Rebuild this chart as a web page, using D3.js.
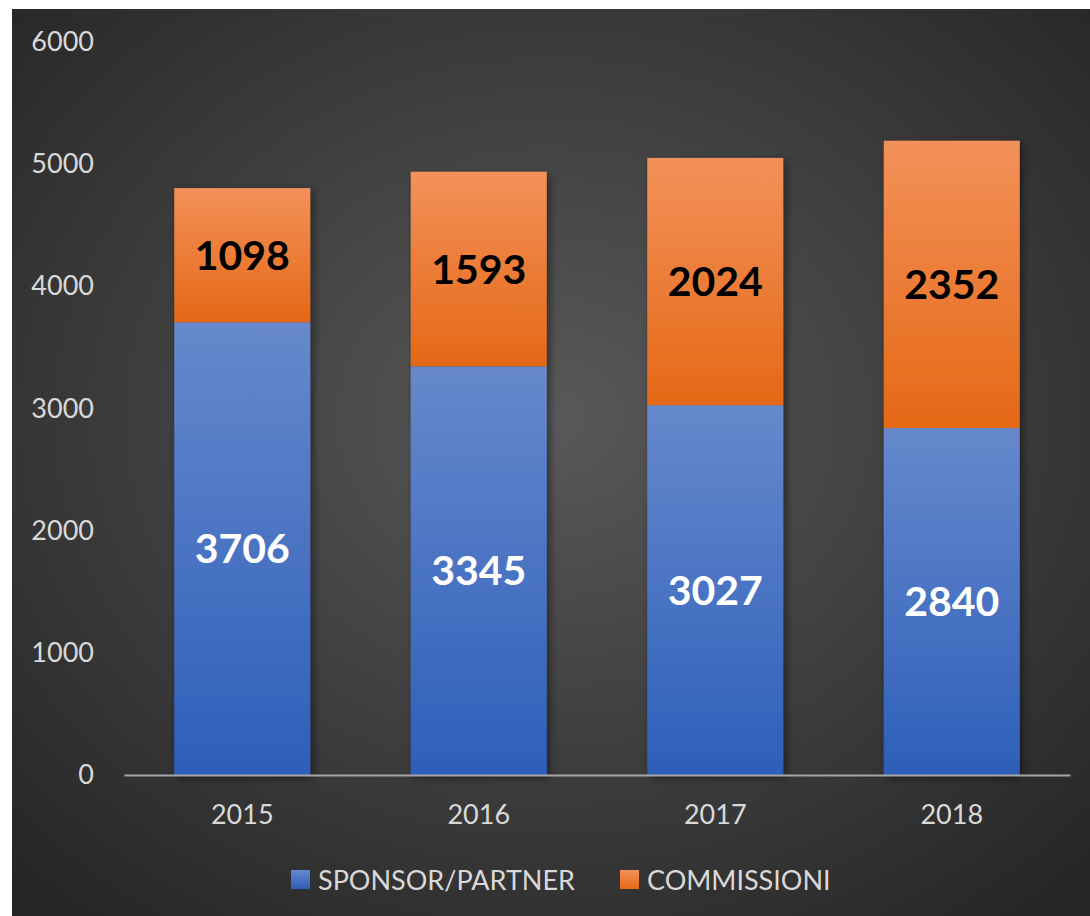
<!DOCTYPE html>
<html>
<head>
<meta charset="utf-8">
<script src="https://cdn.jsdelivr.net/npm/d3@7"></script>
<style>
  html, body { margin: 0; padding: 0; background: #fff; }
  svg { display: block; }
</style>
</head>
<body>
<div id="chart"></div>
<script>
const years = ["2015", "2016", "2017", "2018"];
const sponsor = [3706, 3345, 3027, 2840];
const commissioni = [1098, 1593, 2024, 2352];
const seriesNames = ["SPONSOR/PARTNER", "COMMISSIONI"];
const yTicks = [0, 1000, 2000, 3000, 4000, 5000, 6000];

const W = 1090, H = 916;
const font = "Lato, 'Open Sans', sans-serif";

const svg = d3.select("#chart").append("svg")
    .attr("width", W).attr("height", H);

const defs = svg.append("defs");

// background glow
const bg = defs.append("radialGradient").attr("id", "bg")
    .attr("cx", "50%").attr("cy", "45%").attr("r", "72%");
bg.append("stop").attr("offset", "0%").attr("stop-color", "#595959");
bg.append("stop").attr("offset", "100%").attr("stop-color", "#252525");

const gBlue = defs.append("linearGradient").attr("id", "gBlue")
    .attr("x1", 0).attr("y1", 0).attr("x2", 0).attr("y2", 1);
gBlue.append("stop").attr("offset", "0%").attr("stop-color", "#6788cc");
gBlue.append("stop").attr("offset", "100%").attr("stop-color", "#2d5fba");

const gOrange = defs.append("linearGradient").attr("id", "gOrange")
    .attr("x1", 0).attr("y1", 0).attr("x2", 0).attr("y2", 1);
gOrange.append("stop").attr("offset", "0%").attr("stop-color", "#f39159");
gOrange.append("stop").attr("offset", "100%").attr("stop-color", "#e56816");

const shadow = defs.append("filter").attr("id", "shadow")
    .attr("x", "-20%").attr("y", "-20%").attr("width", "140%").attr("height", "140%");
shadow.append("feDropShadow").attr("dx", 3).attr("dy", 3).attr("stdDeviation", 4)
    .attr("flood-color", "#000").attr("flood-opacity", 0.45);

svg.append("rect").attr("x", 12).attr("y", 9)
    .attr("width", W - 12).attr("height", H - 9)
    .attr("fill", "url(#bg)");

const x = d3.scaleBand().domain(years).range([124, 1070]).paddingInner(0.425).paddingOuter(0.2125);
const y = d3.scaleLinear().domain([0, 6000]).range([775, 42]);

// y labels
const yAxis = svg.append("g").attr("transform", "translate(94,0)")
    .call(d3.axisLeft(y).tickValues(yTicks).tickFormat(d3.format("d")).tickSize(0).tickPadding(0));
yAxis.select(".domain").remove();
yAxis.selectAll("text").attr("fill", "#d9d9d9").style("font-family", font)
    .style("font-size", "27px");

const rows = years.map((yr, i) => ({ year: yr, s: sponsor[i], c: commissioni[i] }));

const bars = svg.append("g").selectAll("g").data(rows).enter().append("g")
    .attr("filter", "url(#shadow)");
bars.append("rect")
    .attr("x", d => x(d.year)).attr("width", x.bandwidth())
    .attr("y", d => y(d.s)).attr("height", d => y(0) - y(d.s))
    .attr("fill", "url(#gBlue)");
bars.append("rect")
    .attr("x", d => x(d.year)).attr("width", x.bandwidth())
    .attr("y", d => y(d.s + d.c)).attr("height", d => y(d.s) - y(d.s + d.c))
    .attr("fill", "url(#gOrange)");

// x axis
const xAxis = svg.append("g").attr("transform", "translate(0,775)")
    .call(d3.axisBottom(x).tickSize(0).tickPadding(30));
xAxis.select(".domain").attr("stroke", "#a6a6a6").attr("stroke-width", 2);
xAxis.selectAll("text").attr("fill", "#d9d9d9").style("font-family", font)
    .style("font-size", "27px");

// data labels
const labels = svg.append("g").style("font-family", font)
    .style("font-size", "41px").style("font-weight", "bold").attr("text-anchor", "middle");
labels.selectAll(".ls").data(rows).enter().append("text")
    .attr("x", d => x(d.year) + x.bandwidth() / 2)
    .attr("y", d => (y(0) + y(d.s)) / 2).attr("dy", "0.36em")
    .attr("fill", "#fff").text(d => d.s);
labels.selectAll(".lc").data(rows).enter().append("text")
    .attr("x", d => x(d.year) + x.bandwidth() / 2)
    .attr("y", d => (y(d.s) + y(d.s + d.c)) / 2).attr("dy", "0.36em")
    .attr("fill", "#000").text(d => d.c);

// legend
const legX = [291, 620];
const legFill = ["url(#gBlue)", "url(#gOrange)"];
const leg = svg.append("g");
seriesNames.forEach((n, i) => {
  leg.append("rect").attr("x", legX[i]).attr("y", 870).attr("width", 19).attr("height", 19)
      .attr("fill", legFill[i]);
  leg.append("text").attr("x", legX[i] + 27).attr("y", 890)
      .attr("fill", "#d9d9d9").style("font-family", font).style("font-size", "27px")
      .text(n);
});
</script>
</body>
</html>
